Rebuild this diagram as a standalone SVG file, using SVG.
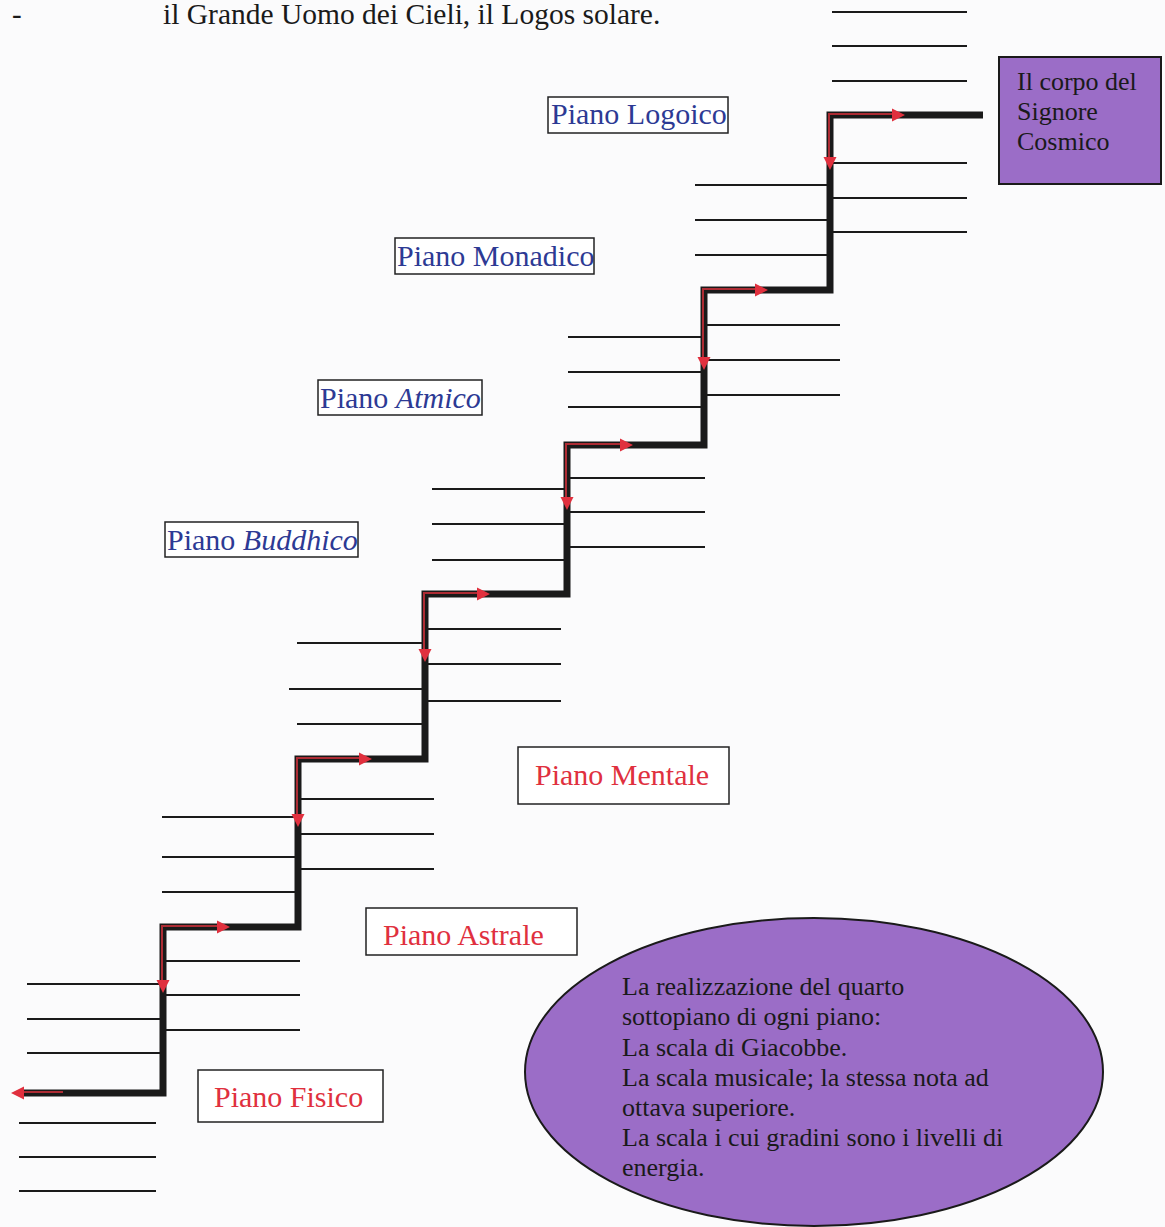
<svg xmlns="http://www.w3.org/2000/svg" xmlns:xlink="http://www.w3.org/1999/xlink" width="1165" height="1227" viewBox="0 0 1165 1227">
  <style>
    text { font-family: "Liberation Serif", "Times New Roman", serif; }
    .sub { stroke: #1a1a1a; stroke-width: 2; fill: none; }
    .stair { stroke: #1a1a1a; stroke-width: 7; fill: none; stroke-linejoin: miter; }
    .red { stroke: #c8303a; stroke-width: 2; fill: none; stroke-opacity: 0.85; }
    .lbl { fill: #ffffff; stroke: #222; stroke-width: 1.5; }
    .blue { fill: #2d3a94; font-size: 30px; }
    .redt { fill: #e0303e; font-size: 30px; }
    .purple { fill: #9b6dc7; stroke: #1a1a1a; stroke-width: 2; }
    .ptext { fill: #1a1a1a; font-size: 26px; }
  </style>
  <defs>
    <path id="ar" d="M0,0 L-13,-6.5 L-13,6.5 Z" fill="#e0303e"/>
  </defs>
  <rect x="0" y="0" width="1165" height="1227" fill="#fbfbfc"/>

  <g id="header">
    <text x="12" y="24" style="font-size:29px;fill:#1a1a1a">-</text>
    <text x="163" y="24" style="font-size:29.5px;fill:#1a1a1a">il Grande Uomo dei Cieli, il Logos solare.</text>
  </g>

  <g id="sublevels">
    <path class="sub" d="M832,12 H967 M832,46 H967 M832,81 H967 M832,163 H967 M832,198 H967 M832,232 H967"/>
    <path class="sub" d="M695,185 H830 M695,220 H830 M695,255 H830"/>
    <path class="sub" d="M707,325 H840 M707,360 H840 M707,395 H840 M568,337 H704 M568,372 H704 M568,407 H704"/>
    <path class="sub" d="M570,478 H705 M570,512 H705 M570,547 H705 M432,489 H567 M432,524 H567 M432,560 H567"/>
    <path class="sub" d="M428,629 H561 M428,664 H561 M428,701 H561 M297,643 H425 M289,689 H425 M297,724 H425"/>
    <path class="sub" d="M300,799 H434 M300,834 H434 M300,869 H434 M162,817 H298 M162,857 H298 M162,892 H298"/>
    <path class="sub" d="M166,961 H300 M166,995 H300 M166,1030 H300 M27,984 H163 M27,1019 H163 M27,1053 H163"/>
    <path class="sub" d="M19,1123 H156 M19,1157 H156 M19,1191 H156"/>
  </g>

  <g id="connectors">
    <path class="stair" d="M20,1093 H163 V927 H298 V759 H425 V594 H567 V445 H704 V290 H830 V115 H983"/>
    <path class="red" d="M829,160 V114 H893"/>
    <path class="red" d="M703,358 V289 H756"/>
    <path class="red" d="M566,498 V444 H621"/>
    <path class="red" d="M424,650 V593 H478"/>
    <path class="red" d="M297,814 V758 H360"/>
    <path class="red" d="M162,981 V926 H218"/>
    <path class="red" d="M22,1092 H63"/>
    <use xlink:href="#ar" transform="translate(905,115)"/>
    <use xlink:href="#ar" transform="translate(830,170) rotate(90)"/>
    <use xlink:href="#ar" transform="translate(768,290)"/>
    <use xlink:href="#ar" transform="translate(704,370) rotate(90)"/>
    <use xlink:href="#ar" transform="translate(633,445)"/>
    <use xlink:href="#ar" transform="translate(567,510) rotate(90)"/>
    <use xlink:href="#ar" transform="translate(490,594)"/>
    <use xlink:href="#ar" transform="translate(425,662) rotate(90)"/>
    <use xlink:href="#ar" transform="translate(372,759)"/>
    <use xlink:href="#ar" transform="translate(298,827) rotate(90)"/>
    <use xlink:href="#ar" transform="translate(230,927)"/>
    <use xlink:href="#ar" transform="translate(163,993) rotate(90)"/>
    <use xlink:href="#ar" transform="translate(11,1093) rotate(180)"/>
  </g>

  <g id="corpo-signore-cosmico">
    <rect class="purple" x="999" y="57" width="162" height="127"/>
    <text class="ptext" x="1017" y="90">Il corpo del</text>
    <text class="ptext" x="1017" y="120">Signore</text>
    <text class="ptext" x="1017" y="150">Cosmico</text>
  </g>

  <g id="piano-logoico">
    <rect class="lbl" x="548" y="97" width="180" height="36"/>
    <text class="blue" x="551" y="124">Piano Logoico</text>
  </g>
  <g id="piano-monadico">
    <rect class="lbl" x="395" y="238" width="199" height="36"/>
    <text class="blue" x="397" y="266">Piano Monadico</text>
  </g>
  <g id="piano-atmico">
    <rect class="lbl" x="318" y="380" width="164" height="35"/>
    <text class="blue" x="320" y="408">Piano <tspan font-style="italic">Atmico</tspan></text>
  </g>
  <g id="piano-buddhico">
    <rect class="lbl" x="165" y="522" width="193" height="35"/>
    <text class="blue" x="167" y="550">Piano <tspan font-style="italic">Buddhico</tspan></text>
  </g>
  <g id="piano-mentale">
    <rect class="lbl" x="518" y="747" width="211" height="57"/>
    <text class="redt" x="535" y="785">Piano Mentale</text>
  </g>
  <g id="piano-astrale">
    <rect class="lbl" x="366" y="908" width="211" height="47"/>
    <text class="redt" x="383" y="945">Piano Astrale</text>
  </g>
  <g id="piano-fisico">
    <rect class="lbl" x="198" y="1070" width="185" height="52"/>
    <text class="redt" x="214" y="1107">Piano Fisico</text>
  </g>

  <g id="nota-ellisse">
    <ellipse class="purple" cx="814" cy="1072" rx="289" ry="154"/>
    <text class="ptext" x="622" y="995">La realizzazione del quarto</text>
    <text class="ptext" x="622" y="1025">sottopiano di ogni piano:</text>
    <text class="ptext" x="622" y="1056">La scala di Giacobbe.</text>
    <text class="ptext" x="622" y="1086">La scala musicale; la stessa nota ad</text>
    <text class="ptext" x="622" y="1116">ottava superiore.</text>
    <text class="ptext" x="622" y="1146">La scala i cui gradini sono i livelli di</text>
    <text class="ptext" x="622" y="1176">energia.</text>
  </g>
</svg>
